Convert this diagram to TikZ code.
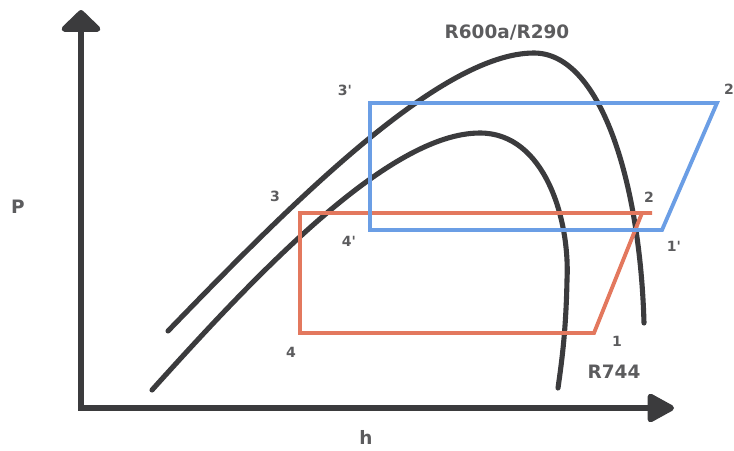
\documentclass[tikz,border=0pt]{standalone}
\usepackage{fontspec}
\setmainfont{DejaVu Sans}
\definecolor{AxisGrey}{rgb}{0.23, 0.23, 0.24}
\definecolor{LabelGrey}{rgb}{0.36, 0.36, 0.37}
\definecolor{CycleRed}{rgb}{0.89, 0.47, 0.37}
\definecolor{CycleBlue}{rgb}{0.42, 0.62, 0.90}
\usetikzlibrary{arrows.meta}

\begin{document}
\begin{tikzpicture}[
        x=0.02cm, y=-0.02cm,
        curve/.style={line width=2.9pt, AxisGrey, line cap=round},
        cycle/.style={line width=2.2pt, line join=miter},
        pt/.style={font=\fontsize{8}{9}\selectfont\bfseries, text=LabelGrey, inner sep=0pt},
        lab/.style={font=\fontsize{10.5}{12}\selectfont\bfseries, text=LabelGrey, inner sep=0pt}
    ]
        \useasboundingbox (0,0) rectangle (734,450);
        % axes
        \coordinate (origin) at (81,408);
        \coordinate (ptip) at (81,10);
        \coordinate (htip) at (674,408);
        \draw[line width=3.4pt, AxisGrey,
              arrows={Triangle[width=0.92cm,length=0.46cm,round]-Triangle[width=0.62cm,length=0.6cm,round]}]
              (ptip) -- (origin) -- (htip);
        \node[lab] (plab) at (18,207) {P};
        \node[lab] (hlab) at (366,437) {h};
        % saturation domes
        \coordinate (top1) at (534,53);
        \coordinate (top2) at (480,133);
        \draw[curve] (168,331) .. controls (290,205) and (440,53) .. (top1)
              .. controls (600,53) and (640,180) .. (644,323);
        \draw[curve] (152,390) .. controls (260,270) and (390,133) .. (top2)
              .. controls (545,133) and (570,220) .. (567,280)
              .. controls (566,330) and (562,360) .. (558,388);
        \node[lab] (dome1) at (507,33) {R600a/R290};
        \node[lab] (dome2) at (614,372) {R744};
        % R744 cycle
        \coordinate (r1) at (594,333);
        \coordinate (r2) at (652,213);
        \coordinate (r3) at (300,213);
        \coordinate (r4) at (300,333);
        \draw[cycle, CycleRed] (r2) -- (r3) -- (r4) -- (r1) -- (642,213);
        % R600a/R290 cycle
        \coordinate (b1) at (662,230);
        \coordinate (b2) at (717,103);
        \coordinate (b3) at (370,103);
        \coordinate (b4) at (370,230);
        \draw[cycle, CycleBlue] (b1) -- (b2) -- (b3) -- (b4) -- cycle;
        % state points
        \node[pt] (n1) at (617,341) {1};
        \node[pt] (n2) at (649,197) {2};
        \node[pt] (n3) at (275,196) {3};
        \node[pt] (n4) at (291,352) {4};
        \node[pt] (n1p) at (674,246) {1\textquotesingle};
        \node[pt] (n2p) at (729,89) {2};
        \node[pt] (n3p) at (345,90) {3\textquotesingle};
        \node[pt] (n4p) at (349,241) {4\textquotesingle};
    \end{tikzpicture}
\end{document}
